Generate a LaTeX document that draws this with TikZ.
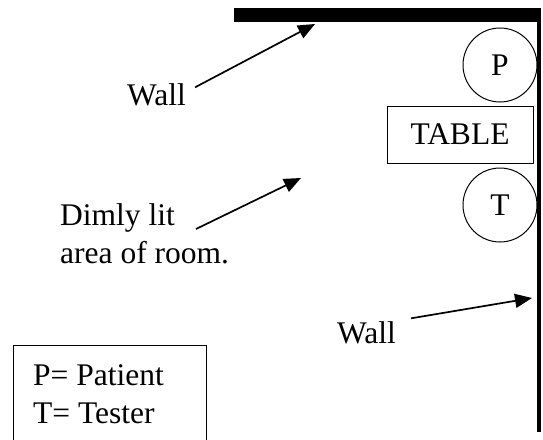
\documentclass[tikz,border=0pt]{standalone}
\usepackage{fontspec}
\setmainfont{Liberation Serif}
\usetikzlibrary{arrows.meta}
\begin{document}
\begin{tikzpicture}[x=1pt, y=-1pt, font=\fontsize{31.5}{38}\selectfont,
  pointer/.style={-{Triangle[length=17pt,width=14pt]}, line width=1.7pt},
  seat/.style={draw, circle, minimum size=74pt, inner sep=0pt, line width=1pt}]
  \useasboundingbox (0,0) rectangle (543,439);
  % Walls of the room
  \fill (234,8) rectangle (541,21.5);
  \draw[line width=4pt] (539,8) -- (539,432);
  % Patient, table and tester along the right wall
  \node[seat] (patient) at (500,65) {P};
  \node[draw, line width=1pt, minimum width=146pt, minimum height=57pt]
    (table) at (460,134.5) {TABLE};
  \node[seat] (tester) at (500,205) {T};
  % Labels with their arrows
  \node[anchor=base west, inner sep=0pt] (wallTop) at (127,105) {Wall};
  \coordinate (topWall) at (315,24);
  \draw[pointer] ([xshift=9pt,yshift=7pt]wallTop.east) -- (topWall);
  \node[anchor=base west, inner sep=0pt, align=left] (dimly) at (60,263)
    {Dimly lit\\area of room.};
  \coordinate (dimFrom) at (196,229);
  \coordinate (dimSpot) at (301,178);
  \draw[pointer] (dimFrom) -- (dimSpot);
  \node[anchor=base west, inner sep=0pt] (wallSide) at (337,343) {Wall};
  \coordinate (sideWall) at (532,298);
  \draw[pointer] ([xshift=15pt,yshift=14pt]wallSide.east) -- (sideWall);
  % Key, open at the bottom edge
  \draw[line width=1pt] (13,460) -- (13,345) -- (206,345) -- (206,460);
  \node[anchor=base west, inner sep=0pt, align=left] (key) at (33,423)
    {P= Patient\\T= Tester};
\end{tikzpicture}
\end{document}
